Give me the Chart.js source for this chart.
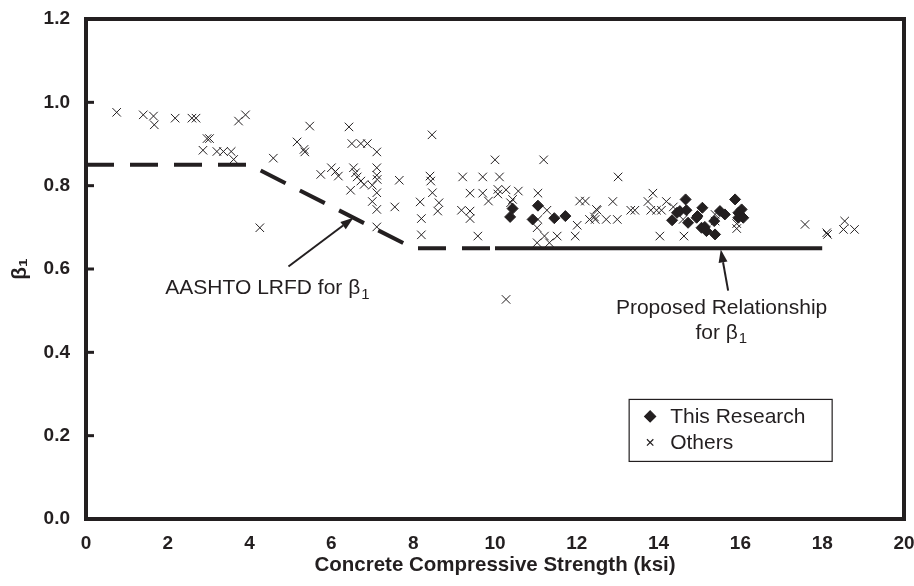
<!DOCTYPE html>
<html lang="en">
<head>
  <meta charset="UTF-8">
  <title>Beta1 vs Concrete Compressive Strength</title>
  <style>
    body { margin: 0; padding: 0; background: #fff; }
  </style>
  <script src="https://cdn.jsdelivr.net/npm/chart.js"></script>
</head>
<body>
  <canvas id="betaChart" width="914" height="586"></canvas>

  <script>
    // "This Research" points [f'c (ksi), beta1]
    const researchPts = [
      [10.37, 0.725], [10.43, 0.745], [11.05, 0.752], [10.92, 0.719], [11.45, 0.722], [11.72, 0.727],
      [14.33, 0.717], [14.45, 0.735], [14.52, 0.739], [14.66, 0.767], [14.68, 0.741], [14.72, 0.711],
      [14.93, 0.723], [14.95, 0.727], [15.07, 0.747], [15.05, 0.699], [15.13, 0.701], [15.17, 0.691],
      [15.38, 0.683], [15.36, 0.715], [15.50, 0.739], [15.62, 0.731], [15.87, 0.767], [15.95, 0.735],
      [15.95, 0.723], [16.03, 0.743], [16.07, 0.723]
    ];

    // "Others" points
    const othersPts = [
      [0.75, 0.976], [1.40, 0.970], [1.65, 0.967], [1.67, 0.946], [2.18, 0.962], [2.59, 0.962],
      [2.69, 0.962], [3.73, 0.955], [3.90, 0.970], [2.96, 0.913], [3.02, 0.913], [2.86, 0.885],
      [3.20, 0.882], [3.36, 0.882], [3.55, 0.882], [3.61, 0.863], [4.58, 0.866], [4.25, 0.699],
      [5.47, 0.943], [6.43, 0.941], [5.16, 0.905], [5.33, 0.887], [5.35, 0.881], [6.50, 0.901],
      [6.72, 0.901], [6.88, 0.901], [7.11, 0.881], [5.74, 0.827], [6.00, 0.843], [6.10, 0.834],
      [6.17, 0.823], [6.54, 0.843], [6.59, 0.831], [6.63, 0.821], [6.72, 0.811], [6.80, 0.803],
      [6.47, 0.789], [7.00, 0.801], [7.11, 0.843], [7.11, 0.825], [7.12, 0.815], [7.11, 0.783],
      [7.00, 0.762], [7.11, 0.743], [7.11, 0.701], [7.66, 0.813], [7.55, 0.749], [8.46, 0.922],
      [8.41, 0.823], [8.43, 0.811], [8.47, 0.783], [8.60, 0.739], [8.17, 0.761], [8.20, 0.721],
      [8.20, 0.682], [8.63, 0.759], [10.00, 0.862], [11.19, 0.862], [9.21, 0.821], [9.70, 0.821],
      [10.11, 0.821], [9.39, 0.782], [9.70, 0.782], [10.07, 0.791], [10.27, 0.790], [10.57, 0.787],
      [9.84, 0.763], [10.07, 0.780], [10.43, 0.767], [10.38, 0.759], [9.18, 0.741], [9.39, 0.739],
      [9.39, 0.721], [9.58, 0.679], [11.05, 0.782], [11.27, 0.741], [11.05, 0.719], [11.03, 0.699],
      [11.21, 0.679], [11.52, 0.679], [11.03, 0.663], [11.33, 0.663], [12.01, 0.705], [11.96, 0.679],
      [12.07, 0.763], [12.21, 0.763], [12.31, 0.719], [12.45, 0.719], [12.48, 0.743], [10.27, 0.527],
      [13.01, 0.821], [12.88, 0.762], [12.50, 0.741], [12.43, 0.725], [12.72, 0.719], [12.99, 0.719],
      [13.32, 0.741], [13.42, 0.741], [13.74, 0.762], [13.86, 0.782], [13.81, 0.741], [13.95, 0.741],
      [14.07, 0.741], [14.19, 0.762], [14.36, 0.749], [14.03, 0.679], [14.62, 0.679], [14.60, 0.719],
      [15.38, 0.731], [15.38, 0.715], [15.91, 0.709], [15.91, 0.697], [17.58, 0.707], [18.11, 0.687],
      [18.13, 0.683], [18.55, 0.715], [18.52, 0.695], [18.79, 0.695]
    ];

    // design relationships
    const aashtoLine = [[0, 0.85], [4, 0.85], [8, 0.65], [10, 0.65]];
    const proposedLine = [[10, 0.65], [18, 0.65]];

    // axes
    const xMin = 0, xMax = 20, xStep = 2;
    const yMin = 0, yMax = 1.2, yStep = 0.2;
    const xTitle = 'Concrete Compressive Strength (ksi)';
    const yTitle = 'β₁';

    // annotation anchors in data units: text position, arrow tail, arrow tip
    const aashtoNote = { text: 'AASHTO LRFD for β', sub: '1', at: [1.94, 0.553], tail: [4.95, 0.606], tip: [6.54, 0.723] };
    const proposedNote = { lines: ['Proposed Relationship', 'for β'], sub: '1', at: [15.54, 0.507], tail: [15.70, 0.548], tip: [15.52, 0.647] };
    const legendItems = ['This Research', 'Others'];

    const ink = '#231f20';
    const fontFamily = '"Liberation Sans", Arial, Helvetica, sans-serif';
    const noteSize = 21;
    const toXY = pts => pts.map(p => ({ x: p[0], y: p[1] }));

    const arrow = (ctx, x0, y0, x1, y1) => {
      const ang = Math.atan2(y1 - y0, x1 - x0);
      const len = 13, half = 4.5;
      const bx = x1 - len * Math.cos(ang), by = y1 - len * Math.sin(ang);
      ctx.beginPath();
      ctx.moveTo(x0, y0);
      ctx.lineTo(bx, by);
      ctx.lineWidth = 2;
      ctx.stroke();
      ctx.beginPath();
      ctx.moveTo(x1, y1);
      ctx.lineTo(bx + half * Math.sin(ang), by - half * Math.cos(ang));
      ctx.lineTo(bx - half * Math.sin(ang), by + half * Math.cos(ang));
      ctx.closePath();
      ctx.fill();
    };

    // text with a subscript, drawn from the left edge
    const subText = (ctx, main, sub, x, y, size) => {
      ctx.font = size + 'px ' + fontFamily;
      ctx.textAlign = 'left';
      ctx.textBaseline = 'middle';
      ctx.fillText(main, x, y);
      const w = ctx.measureText(main).width;
      ctx.font = Math.round(size * 0.7) + 'px ' + fontFamily;
      ctx.fillText(sub, x + w + 1, y + size * 0.28);
      return w + 1 + ctx.measureText(sub).width;
    };

    const decor = {
      id: 'decor',
      afterDatasetsDraw(chart) {
        const { ctx, chartArea: a, scales: { x, y } } = chart;
        ctx.save();
        ctx.strokeStyle = ink;
        ctx.fillStyle = ink;

        // frame and inward ticks
        ctx.lineWidth = 4;
        ctx.strokeRect(a.left, a.top, a.right - a.left, a.bottom - a.top);
        ctx.lineWidth = 3;
        for (let v = yMin + yStep; v < yMax - 1e-6; v += yStep) {
          const py = y.getPixelForValue(v);
          ctx.beginPath();
          ctx.moveTo(a.left, py);
          ctx.lineTo(a.left + 8, py);
          ctx.stroke();
        }

        // AASHTO annotation
        arrow(ctx, x.getPixelForValue(aashtoNote.tail[0]), y.getPixelForValue(aashtoNote.tail[1]),
          x.getPixelForValue(aashtoNote.tip[0]), y.getPixelForValue(aashtoNote.tip[1]));
        subText(ctx, aashtoNote.text, aashtoNote.sub,
          x.getPixelForValue(aashtoNote.at[0]), y.getPixelForValue(aashtoNote.at[1]), noteSize);

        // Proposed annotation
        arrow(ctx, x.getPixelForValue(proposedNote.tail[0]), y.getPixelForValue(proposedNote.tail[1]),
          x.getPixelForValue(proposedNote.tip[0]), y.getPixelForValue(proposedNote.tip[1]));
        const cx = x.getPixelForValue(proposedNote.at[0]);
        const cy = y.getPixelForValue(proposedNote.at[1]);
        ctx.font = noteSize + 'px ' + fontFamily;
        ctx.textAlign = 'center';
        ctx.textBaseline = 'middle';
        ctx.fillText(proposedNote.lines[0], cx, cy);
        const w2 = ctx.measureText(proposedNote.lines[1]).width + 10;
        subText(ctx, proposedNote.lines[1], proposedNote.sub, cx - w2 / 2, cy + 25, noteSize);

        // legend box
        const lx = x.getPixelForValue(13.28), ly = y.getPixelForValue(0.287);
        const lw = 203, lh = 62;
        ctx.lineWidth = 1.2;
        ctx.strokeRect(lx, ly, lw, lh);
        const ds = chart.data.datasets;
        legendItems.forEach((label, i) => {
          const iy = ly + 17 + i * 26;
          Chart.helpers.drawPoint(ctx, {
            pointStyle: ds[i].pointStyle,
            radius: i === 0 ? 5.5 : 4.5,
            borderWidth: 1
          }, lx + 21, iy);
          ctx.font = noteSize + 'px ' + fontFamily;
          ctx.textAlign = 'left';
          ctx.textBaseline = 'middle';
          ctx.fillText(label, lx + 41, iy + 1);
        });
        ctx.restore();
      }
    };

    const chart = new Chart(document.getElementById('betaChart'), {
      type: 'scatter',
      data: {
        datasets: [
          {
            label: 'This Research', data: toXY(researchPts), pointStyle: 'rectRot',
            pointRadius: 5.5, backgroundColor: ink, borderColor: ink, borderWidth: 1, order: 1
          },
          {
            label: 'Others', data: toXY(othersPts), pointStyle: 'crossRot',
            pointRadius: 6, borderColor: ink, backgroundColor: ink, borderWidth: 1, order: 2
          },
          {
            label: 'AASHTO LRFD', data: toXY(aashtoLine), showLine: true, pointRadius: 0,
            borderColor: ink, borderWidth: 4, borderDash: [28, 16], order: 3
          },
          {
            label: 'Proposed', data: toXY(proposedLine), showLine: true, pointRadius: 0,
            borderColor: ink, borderWidth: 4, order: 4
          }
        ]
      },
      options: {
        responsive: false,
        animation: false,
        layout: { padding: { top: 19, right: 10, left: 0, bottom: 0 } },
        plugins: { legend: { display: false }, tooltip: { enabled: false } },
        scales: {
          x: {
            type: 'linear', min: xMin, max: xMax,
            afterFit: s => { s.height = 67; s.paddingRight = 0; s.paddingLeft = 0; },
            grid: { display: false },
            border: { display: false },
            ticks: {
              stepSize: xStep, padding: 5, color: ink,
              font: { family: fontFamily, size: 19, weight: 'bold' }
            },
            title: {
              display: true, text: xTitle, color: ink,
              font: { family: fontFamily, size: 20.5, weight: 'bold' },
              padding: { top: 0, bottom: 8 }
            }
          },
          y: {
            type: 'linear', min: yMin, max: yMax,
            afterFit: s => { s.width = 86; s.paddingTop = 0; s.paddingBottom = 0; },
            grid: { display: false },
            border: { display: false },
            ticks: {
              stepSize: yStep, padding: 8, color: ink,
              font: { family: fontFamily, size: 19, weight: 'bold' },
              callback: v => v.toFixed(1)
            },
            title: {
              display: true, text: yTitle, color: ink,
              font: { family: fontFamily, size: 21, weight: 'bold' },
              padding: { top: 8, bottom: 0 }
            }
          }
        }
      },
      plugins: [decor]
    });
  </script>
</body>
</html>
